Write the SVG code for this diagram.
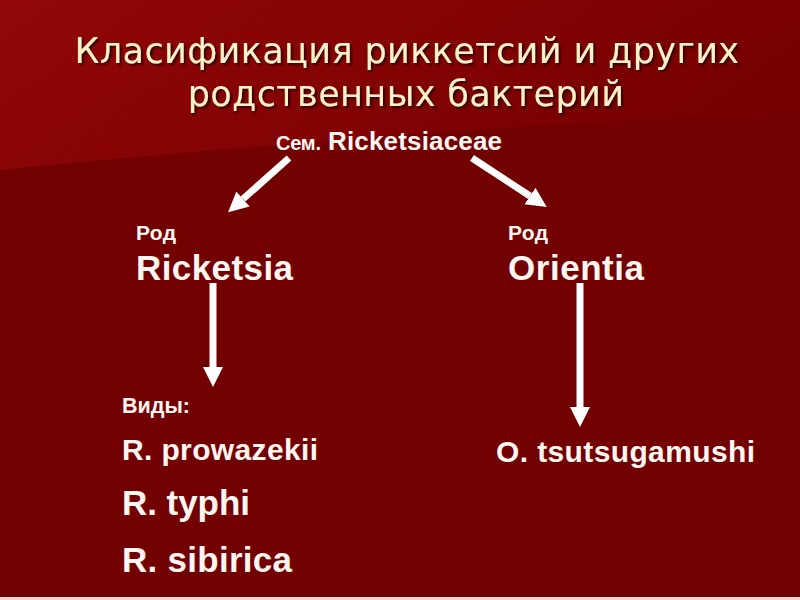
<svg xmlns="http://www.w3.org/2000/svg" width="800" height="600" viewBox="0 0 800 600">
  <defs>
    <linearGradient id="band" x1="0" y1="0" x2="1" y2="0.3">
      <stop offset="0" stop-color="#920808"/>
      <stop offset="0.6" stop-color="#820202"/>
      <stop offset="1" stop-color="#760000"/>
    </linearGradient>
    <filter id="shadow" x="-5%" y="-20%" width="110%" height="140%">
      <feDropShadow dx="2" dy="2" stdDeviation="0.8" flood-color="#2a0000" flood-opacity="0.9"/>
    </filter>
    <marker id="head" markerUnits="userSpaceOnUse" markerWidth="22" markerHeight="22" viewBox="0 -11 22 22" refX="0" refY="0" orient="auto">
      <path d="M0,-10 L20,0 L0,10 Z" fill="#ffffff"/>
    </marker>
    <style>
      .title { font-family: "DejaVu Sans", "Noto Sans", sans-serif; font-size: 35px; letter-spacing: 0.4px; fill: #fff2c8; text-anchor: middle; }
      .lbl { font-family: "Liberation Sans", Arial, sans-serif; font-weight: bold; fill: #fff6f2; }
      .conn { stroke: #ffffff; stroke-width: 7; fill: none; marker-end: url(#head); }
    </style>
  </defs>

  <rect width="800" height="600" fill="#730000"/>
  <path d="M0,0 H800 V112 Q420,128 0,170 Z" fill="url(#band)"/>
  <rect x="0" y="597" width="800" height="3" fill="#e8d8d8"/>

  <g id="title" filter="url(#shadow)">
    <text class="title" x="407" y="63">Класификация риккетсий и других</text>
    <text class="title" x="406" y="106">родственных бактерий</text>
  </g>

  <g id="family">
    <text class="lbl" x="276" y="150" font-size="20" textLength="45" lengthAdjust="spacing">Сем.</text>
    <text class="lbl" x="328" y="150" font-size="26" textLength="174" lengthAdjust="spacing">Ricketsiaceae</text>
  </g>

  <g id="rickettsia">
    <text class="lbl" x="136" y="240" font-size="21" textLength="40" lengthAdjust="spacing">Род</text>
    <text class="lbl" x="136" y="280" font-size="35" textLength="157" lengthAdjust="spacing">Ricketsia</text>
  </g>

  <g id="orientia">
    <text class="lbl" x="508" y="240" font-size="21" textLength="40" lengthAdjust="spacing">Род</text>
    <text class="lbl" x="508" y="280" font-size="35" textLength="136" lengthAdjust="spacing">Orientia</text>
  </g>

  <g id="species-r">
    <text class="lbl" x="122" y="413" font-size="21.5" textLength="68" lengthAdjust="spacing">Виды:</text>
    <text class="lbl" x="122" y="460" font-size="30" textLength="196" lengthAdjust="spacing">R. prowazekii</text>
    <text class="lbl" x="122" y="515" font-size="35" textLength="128" lengthAdjust="spacing">R. typhi</text>
    <text class="lbl" x="122" y="572" font-size="35" textLength="170" lengthAdjust="spacing">R. sibirica</text>
  </g>

  <g id="species-o">
    <text class="lbl" x="496" y="462" font-size="30" textLength="259" lengthAdjust="spacing">O. tsutsugamushi</text>
  </g>

  <g id="connectors">
    <line class="conn" x1="289" y1="158" x2="243" y2="199"/>
    <line class="conn" x1="472" y1="158" x2="530" y2="196"/>
    <line class="conn" x1="213" y1="283" x2="213" y2="367"/>
    <line class="conn" x1="580" y1="283" x2="580" y2="407"/>
  </g>
</svg>
